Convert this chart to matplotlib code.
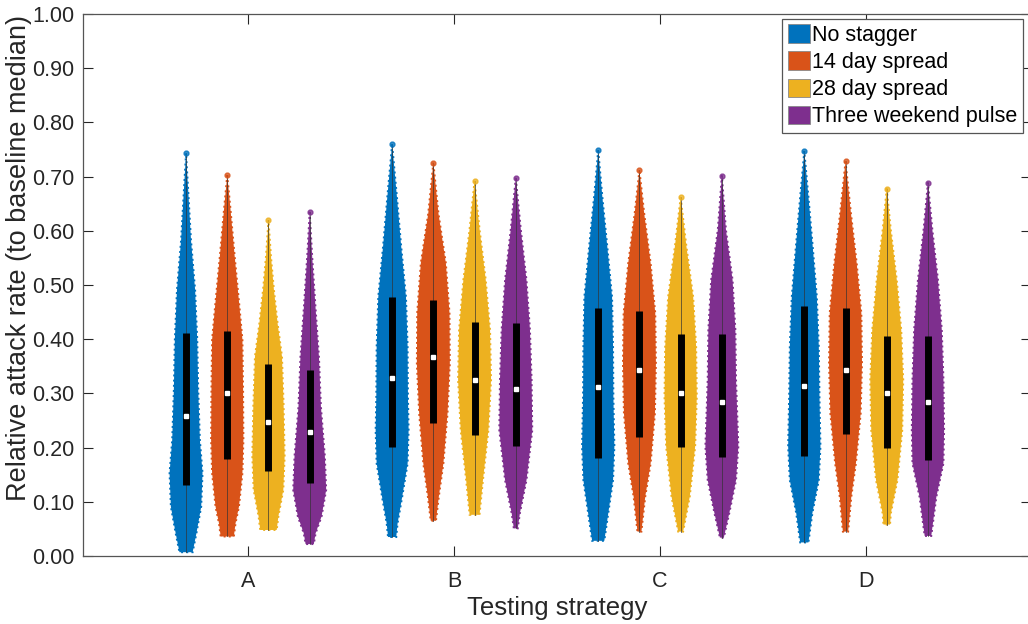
import matplotlib
matplotlib.use("Agg")
import matplotlib.pyplot as plt
from matplotlib.patches import Patch
import numpy as np

plt.rcParams["font.family"] = ["Liberation Sans", "DejaVu Sans"]

groups = ["A", "B", "C", "D"]
series = ["No stagger", "14 day spread", "28 day spread", "Three weekend pulse"]
colors = ["#0072BD", "#D95319", "#EDB120", "#7E2F8E"]

q3 = [[0.412, 0.477, 0.457, 0.461],
      [0.415, 0.472, 0.452, 0.458],
      [0.354, 0.432, 0.410, 0.406],
      [0.343, 0.430, 0.409, 0.406]]
q1 = [[0.131, 0.202, 0.181, 0.185],
      [0.179, 0.246, 0.220, 0.225],
      [0.157, 0.223, 0.202, 0.200],
      [0.134, 0.203, 0.183, 0.177]]
med = [[0.259, 0.329, 0.312, 0.314],
       [0.301, 0.368, 0.343, 0.343],
       [0.248, 0.325, 0.301, 0.300],
       [0.228, 0.309, 0.285, 0.285]]

# violin outlines: levels (top to bottom) and relative half widths
shape_y = [
    [[0.743, 0.675, 0.583, 0.491, 0.399, 0.306, 0.214, 0.153, 0.091, 0.042, 0.007],
     [0.760, 0.663, 0.571, 0.478, 0.386, 0.294, 0.232, 0.171, 0.109, 0.060, 0.035],
     [0.749, 0.663, 0.571, 0.478, 0.386, 0.294, 0.202, 0.140, 0.079, 0.028],
     [0.747, 0.663, 0.571, 0.478, 0.386, 0.294, 0.202, 0.140, 0.079, 0.025]],
    [[0.703, 0.645, 0.553, 0.460, 0.399, 0.306, 0.214, 0.153, 0.091, 0.060, 0.036],
     [0.726, 0.632, 0.540, 0.448, 0.355, 0.263, 0.171, 0.109, 0.065],
     [0.712, 0.632, 0.540, 0.448, 0.355, 0.263, 0.171, 0.109, 0.045],
     [0.728, 0.632, 0.540, 0.448, 0.355, 0.263, 0.171, 0.109, 0.045]],
    [[0.620, 0.553, 0.491, 0.430, 0.368, 0.276, 0.184, 0.122, 0.073, 0.048],
     [0.692, 0.601, 0.509, 0.417, 0.325, 0.232, 0.140, 0.076],
     [0.662, 0.571, 0.478, 0.386, 0.294, 0.202, 0.109, 0.045],
     [0.678, 0.601, 0.509, 0.417, 0.325, 0.232, 0.140, 0.079, 0.058]],
    [[0.635, 0.553, 0.460, 0.368, 0.276, 0.184, 0.122, 0.073, 0.042, 0.022],
     [0.698, 0.601, 0.509, 0.417, 0.325, 0.232, 0.140, 0.079, 0.051],
     [0.702, 0.601, 0.509, 0.417, 0.325, 0.202, 0.140, 0.079, 0.034],
     [0.689, 0.601, 0.509, 0.417, 0.325, 0.232, 0.171, 0.109, 0.037]],
]
shape_w = [
    [[0, 0.13, 0.30, 0.55, 0.68, 0.74, 0.84, 1.00, 0.92, 0.63, 0.40],
     [0, 0.29, 0.55, 0.84, 0.94, 0.96, 1.00, 0.94, 0.61, 0.33, 0.25],
     [0, 0.25, 0.55, 0.84, 0.90, 0.92, 0.98, 0.90, 0.61, 0.37],
     [0, 0.25, 0.51, 0.76, 0.88, 0.92, 0.98, 0.88, 0.49, 0.25]],
    [[0, 0.18, 0.45, 0.74, 0.92, 0.96, 0.98, 0.92, 0.71, 0.50, 0.40],
     [0, 0.31, 0.76, 0.98, 1.00, 0.86, 0.61, 0.33, 0.16],
     [0, 0.29, 0.68, 0.96, 1.00, 0.94, 0.68, 0.35, 0.12],
     [0, 0.33, 0.68, 0.96, 1.00, 0.92, 0.63, 0.35, 0.16]],
    [[0, 0.15, 0.33, 0.55, 0.82, 0.92, 0.98, 0.90, 0.60, 0.50],
     [0, 0.31, 0.68, 0.94, 1.00, 0.84, 0.51, 0.30],
     [0, 0.35, 0.76, 0.94, 0.98, 0.88, 0.55, 0.15],
     [0, 0.25, 0.61, 0.88, 1.00, 0.94, 0.65, 0.25, 0.20]],
    [[0, 0.15, 0.35, 0.56, 0.68, 0.92, 1.00, 0.72, 0.36, 0.25],
     [0, 0.31, 0.65, 0.86, 0.96, 1.00, 0.65, 0.25, 0.12],
     [0, 0.25, 0.65, 0.82, 0.86, 1.00, 0.86, 0.45, 0.12],
     [0, 0.27, 0.61, 0.84, 0.94, 0.98, 0.94, 0.51, 0.20]],
]

offsets = [-0.3, -0.1, 0.1, 0.3]
half = 0.08

fig = plt.figure(figsize=(10.28, 6.24), dpi=100)
ax = fig.add_axes([83 / 1028, 68 / 624, 948 / 1028, 542 / 624])

for s in range(4):
    for g in range(4):
        x0 = g + 1 + offsets[s]
        y = np.array(shape_y[s][g])
        w = np.array(shape_w[s][g]) * half
        xs = np.concatenate([x0 - w, (x0 + w)[::-1]])
        ys = np.concatenate([y, y[::-1]])
        ax.fill(xs, ys, facecolor=colors[s], edgecolor=colors[s], lw=1.4,
                ls=":", alpha=1, zorder=2)
        ax.plot([x0, x0], [y[-1], y[0]], color="#333333", lw=0.6, alpha=0.8, zorder=3)
        ax.plot(x0, y[0], "o", ms=3.5, mfc=colors[s], mec=colors[s], mew=1,
                alpha=0.8, zorder=3)
        ax.plot([x0, x0], [q1[s][g], q3[s][g]], color="black", lw=5,
                solid_capstyle="butt", zorder=4)
        ax.plot(x0, med[s][g], "s", ms=2.5, color="white", zorder=5)

ax.set_xlim(0.2, 4.8)
ax.set_ylim(0, 1)
ax.set_xticks(range(1, 5))
ax.set_xticklabels(groups)
ax.set_yticks(np.arange(0, 1.01, 0.1))
ax.set_yticklabels(["%.2f" % v for v in np.arange(0, 1.01, 0.1)])
ax.tick_params(direction="in", length=7, width=0.8, colors="#262626",
               labelsize=15.5, top=True, right=True)
ax.tick_params(axis="x", pad=11)
ax.tick_params(axis="y", pad=6)
for sp in ax.spines.values():
    sp.set_color("#555555")
    sp.set_linewidth(0.9)

ax.set_xlabel("Testing strategy", fontsize=18.5, color="#262626", labelpad=3)
ax.set_ylabel("Relative attack rate (to baseline median)", fontsize=19.5,
              color="#262626")
ax.yaxis.set_label_coords(-0.054, 0.55)

handles = [Patch(facecolor=c, edgecolor="#888888", lw=0.6) for c in colors]
leg = ax.legend(handles, series, loc="upper right",
                bbox_to_anchor=((1023 - 83) / 948, (556 - 19) / 542),
                borderaxespad=0, fontsize=15.5, fancybox=False, framealpha=1,
                edgecolor="#555555", handlelength=1.05, handleheight=0.95,
                handletextpad=0.1, labelspacing=0.25, borderpad=0.25)
leg.get_frame().set_linewidth(0.9)

fig.savefig("out.png", dpi=100)
